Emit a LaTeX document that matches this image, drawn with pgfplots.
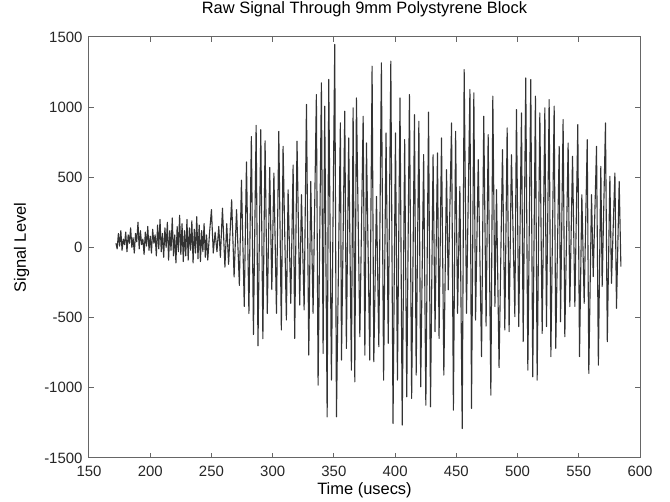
\documentclass[border=0pt]{standalone}
\usepackage{fontspec}
\setmainfont{Liberation Sans}
\usepackage{pgfplots}
\pgfplotsset{compat=1.18}
\begin{document}
\begin{tikzpicture}
\useasboundingbox (-89bp,-44bp) rectangle (581bp,458bp);
\begin{axis}[
  at={(0,0)}, anchor=south west,
  scale only axis, width=551bp, height=421bp,
  xmin=150, xmax=600, ymin=-1500, ymax=1500,
  xtick={150,200,...,600}, ytick={-1500,-1000,...,1500},
  tick align=inside, major tick length=5bp,
  axis line style={black!60, line width=1bp},
  tick style={black!60, line width=1bp},
  /pgf/number format/assume math mode=true,
  /pgf/number format/set thousands separator={},
  tick label style={font=\fontsize{15}{17}\selectfont, text=black!85},
  xticklabel style={anchor=base, yshift=-19bp},
  yticklabel style={xshift=-3bp},
  title={Raw Signal Through 9mm Polystyrene Block},
  title style={font=\fontsize{16.5}{19}\selectfont, at={(axis description cs:0.5,1)}, anchor=base, yshift=18bp},
  xlabel={Time (usecs)},
  xlabel style={font=\fontsize{16.5}{19}\selectfont, at={(axis description cs:0.5,0)}, anchor=base, yshift=-37bp},
  ylabel={Signal Level},
  ylabel style={font=\fontsize{16.5}{19}\selectfont, at={(axis description cs:-0.1225,0.5)}, anchor=center},
]
\addplot[black!80, line width=1.1bp, line join=round] coordinates {
(172,30) (173,-10) (174,100) (175,10) (176,120) (177,-20) (178,60) (179,20)
(180,110) (181,-30) (182,90) (183,30) (184,140) (185,0) (186,70) (187,-40)
(188,100) (189,40) (190,180) (191,-10) (192,120) (193,20) (194,60) (195,-50)
(196,110) (197,10) (198,150) (199,-20) (200,80) (201,-40) (202,130) (203,30)
(204,90) (205,-60) (206,160) (207,-10) (208,200) (209,-30) (210,100) (211,-70)
(212,140) (213,0) (214,180) (215,-90) (216,120) (217,-20) (218,210) (219,-60)
(220,90) (221,-110) (222,150) (223,-30) (224,230) (225,-50) (226,170) (227,-100)
(228,120) (229,-60) (230,200) (231,-90) (232,140) (233,-20) (234,190) (235,-110)
(236,130) (237,-40) (238,220) (239,-80) (240,160) (241,-100) (242,120) (243,-30)
(244,170) (245,-70) (246,90) (247,-90) (248.5,110) (250,270) (251.5,-40) (253,110) (254.5,-30)
(256,150) (257.3,-70) (259,280) (261,-140) (262.5,170) (264,-120) (266.5,340) (268.5,-210)
(270.5,270) (272.8,-270) (274.5,480) (276.8,-420) (278.6,610) (280.6,-470) (282.6,790) (284.3,-620)
(286.5,870) (288,-700) (290.3,840) (292,-650) (293.8,760) (295.6,-470) (297.6,570) (299.3,-300)
(301,530) (303.1,-469) (305,828) (307.1,-588) (308.5,721) (311.2,-517) (312.6,411) (314.8,-398)
(316.7,588) (318,-648) (319.9,757) (322.1,-410) (323.5,376) (325.7,-445) (327.6,1019) (329.5,-767)
(331.1,471) (333,-469) (335.7,1090) (337.1,-981) (339.8,1173) (341.2,-755) (342.5,1007) (344.5,-1207)
(345.8,1197) (348,-945) (350.7,1447) (352.1,-1207) (355.3,888) (356.2,-802) (358.9,971) (360.2,-719)
(362.1,781) (364.3,-874) (365.7,995) (367.1,-957) (368.4,1066) (371.2,-636) (373.9,935) (375.3,-767)
(376.6,745) (379.3,-802) (381.2,1292) (382.6,-814) (384.8,364) (386.7,-707) (388.8,1316) (390.6,-945)
(392.6,816) (394.4,-683) (396.5,1328) (398.3,-1254) (400.3,816) (401.9,-945) (404,1066) (405.8,-1266)
(407.8,769) (409.5,-1064) (411.7,1090) (413.5,-1076) (415.8,947) (417.2,-909) (419.4,900) (420.9,-993)
(423.3,662) (425.1,-1124) (427.3,965) (428.9,-1135) (431,661) (432.6,-600) (434.6,674) (435.9,-648)
(437.9,781) (439.8,-909) (442,555) (443.4,-302) (446.1,888) (447.6,-1159) (449.4,828) (451,-469)
(452.9,435) (454.8,-1290) (456.4,1268) (458.3,-469) (461.1,1126) (462.4,-1147) (464.3,1102) (465.7,-517)
(467.9,626) (470.6,-778) (472.4,935) (474.3,-560) (476,804) (478.2,-1052) (479.8,1078) (481.5,-421)
(482.8,412) (484.9,-856) (487.7,697) (489.6,-588) (491.5,852) (493.1,-600) (495,661) (497.8,-493)
(499.1,983) (501,-564) (503.2,959) (504.6,-671) (506.7,1209) (508.4,-874) (510.8,1197) (512.4,-921)
(514.6,1078) (516,-945) (518.2,959) (520.1,-612) (522.3,995) (523.6,-564) (525.8,1054) (527.2,-778)
(529.9,1007) (531.2,-719) (534,721) (535.1,-529) (537.2,912) (538.6,-636) (541.3,745) (542.7,-421)
(544.9,650) (546.8,-420) (549.2,876) (550.6,-778) (552.5,376) (554.4,-398) (556.9,769) (558.2,-897)
(560.4,376) (561.8,-207) (564.5,721) (566,-838) (568,578) (569.1,-278) (571.8,888) (573.3,-671)
(575.4,507) (576.7,-255) (579.5,531) (580.8,-433) (583,471) (584.4,-136)
};
\end{axis}
\end{tikzpicture}
\end{document}
